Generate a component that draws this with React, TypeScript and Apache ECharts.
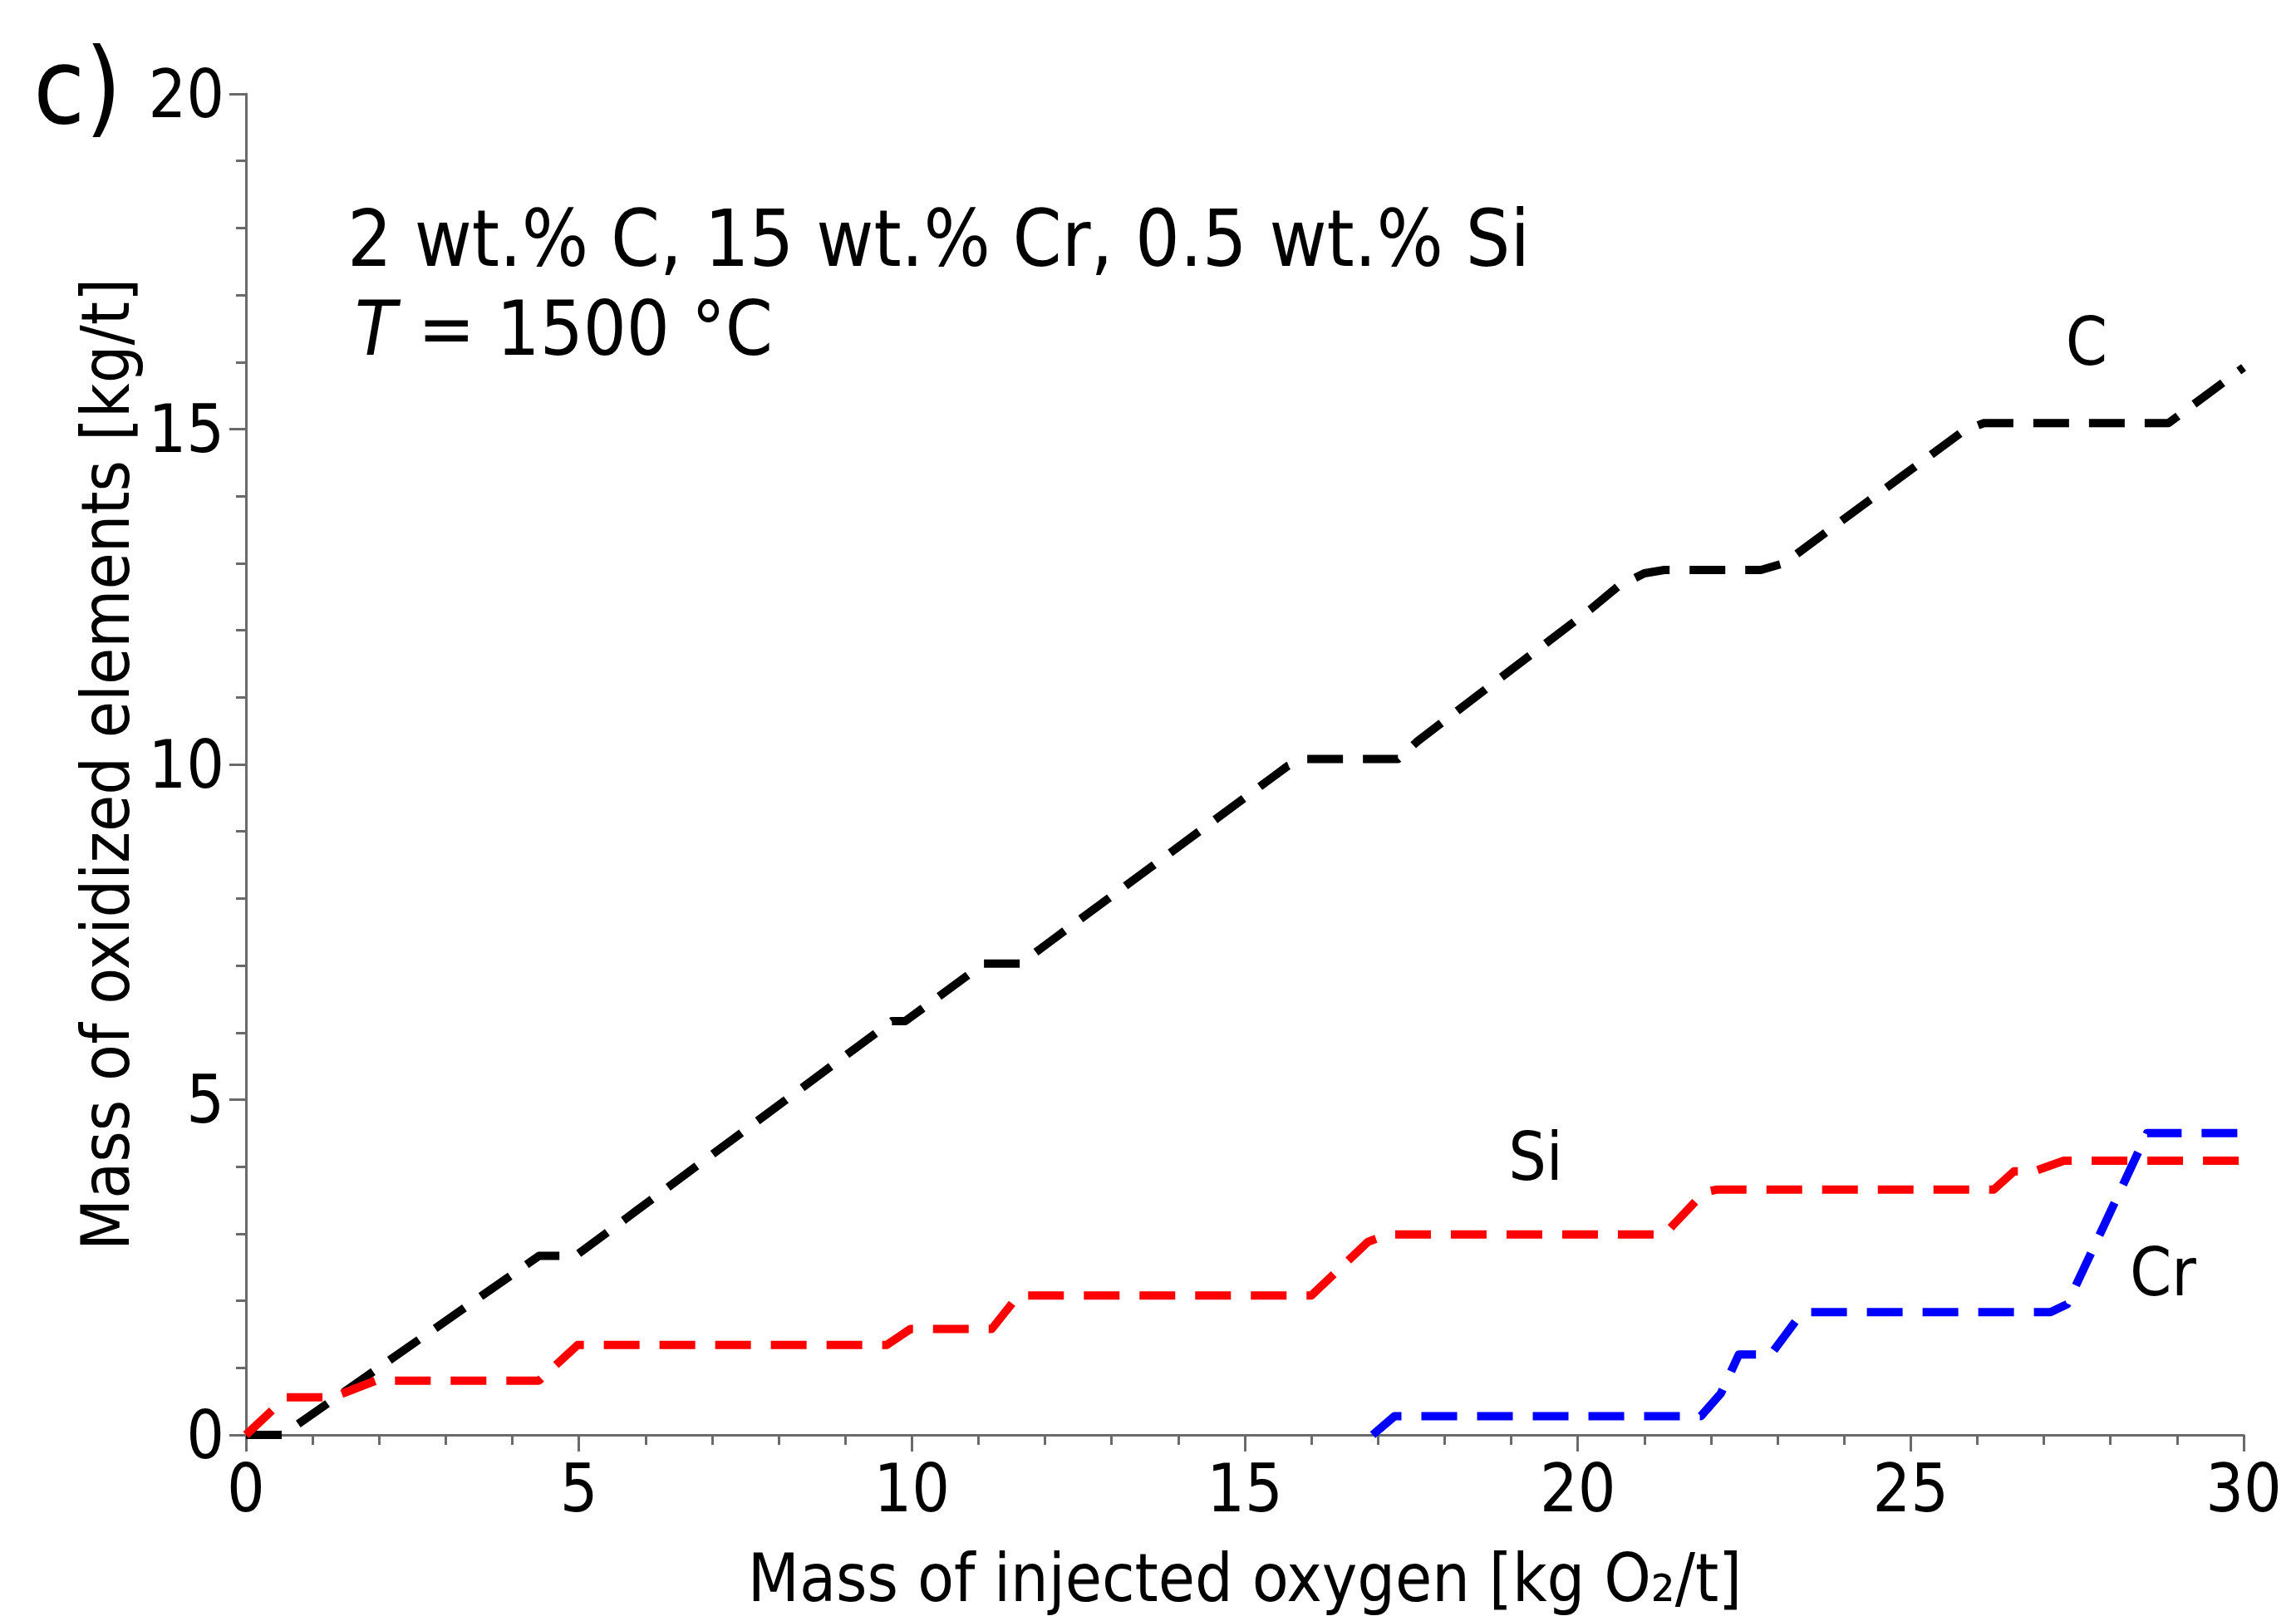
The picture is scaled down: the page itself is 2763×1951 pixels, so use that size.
import React, { useEffect, useRef } from "react";
import * as echarts from "echarts";

// Carbon (C) — black dashed
const cX = [0, 0.55, 4.4, 4.95, 9.7, 9.9, 11.08, 11.63, 15.65, 15.9, 17.3, 17.6, 20.2, 20.6, 21.0, 21.3, 22.75, 23.1, 25.8, 26.1, 28.87, 30];
const cY = [0, 0, 2.67, 2.67, 6.17, 6.17, 7.03, 7.03, 9.98, 10.08, 10.08, 10.35, 12.32, 12.65, 12.85, 12.9, 12.9, 13.0, 14.98, 15.09, 15.09, 15.92];

// Silicon (Si) — red dashed
const siX = [0, 0.6, 1.3, 1.95, 4.4, 4.98, 9.62, 9.98, 11.2, 11.6, 16.0, 16.85, 17.15, 21.3, 21.9, 22.1, 26.25, 26.55, 26.85, 27.3, 30];
const siY = [0, 0.56, 0.56, 0.81, 0.81, 1.34, 1.34, 1.58, 1.58, 2.08, 2.08, 2.88, 2.99, 2.99, 3.62, 3.66, 3.66, 3.93, 3.93, 4.09, 4.09];

// Chromium (Cr) — blue dashed
const crX = [16.92, 17.25, 21.85, 22.15, 22.42, 22.9, 23.35, 23.5, 27.1, 27.35, 28.55, 30];
const crY = [0, 0.28, 0.28, 0.62, 1.2, 1.2, 1.8, 1.83, 1.83, 1.95, 4.5, 4.5];

const xAxisTitle = "Mass of injected oxygen [kg O\u2082/t]";
const yAxisTitle = "Mass of oxidized elements [kg/t]";
const noteLine1 = "2 wt.% C, 15 wt.% Cr, 0.5 wt.% Si";
const noteLine2 = "{i|T} = 1500 °C";
const panelLabel = "c)";

const FONT = "'DejaVu Sans Condensed', 'DejaVu Sans', sans-serif";
const AXIS_COLOR = "#6a6a6a";

function pairs(xs: number[], ys: number[]) {
  return xs.map((x, i) => [x, ys[i]]);
}

export default function App() {
  const ref = useRef<HTMLDivElement>(null);

  useEffect(() => {
    const chart = echarts.init(ref.current!, null, { renderer: "svg" });
    const dash = [43, 24];
    chart.setOption({
      animation: false,
      backgroundColor: "#ffffff",
      grid: { left: 296, right: 63, top: 113, bottom: 224, containLabel: false },
      xAxis: {
        type: "value",
        min: 0,
        max: 30,
        interval: 5,
        name: xAxisTitle,
        nameLocation: "middle",
        nameGap: 172,
        nameMoveOverlap: false,
        nameTextStyle: {
          fontFamily: FONT,
          fontSize: 80,
          color: "#000",
          verticalAlign: "middle",
        },
        axisLine: { show: true, lineStyle: { color: AXIS_COLOR, width: 3 } },
        axisTick: { show: true, inside: false, length: 20, lineStyle: { color: AXIS_COLOR, width: 3 } },
        minorTick: { show: true, splitNumber: 5, length: 12, lineStyle: { color: AXIS_COLOR, width: 3 } },
        axisLabel: { fontFamily: FONT, fontSize: 80, color: "#000", margin: 24 },
        splitLine: { show: false },
      },
      yAxis: {
        type: "value",
        min: 0,
        max: 20,
        interval: 5,
        name: yAxisTitle,
        nameLocation: "middle",
        nameGap: 118,
        nameTextStyle: { fontFamily: FONT, fontSize: 80, color: "#000" },
        axisLine: { show: true, lineStyle: { color: AXIS_COLOR, width: 3 } },
        axisTick: { show: true, inside: false, length: 20, lineStyle: { color: AXIS_COLOR, width: 3 } },
        minorTick: { show: true, splitNumber: 5, length: 12, lineStyle: { color: AXIS_COLOR, width: 3 } },
        axisLabel: { fontFamily: FONT, fontSize: 80, color: "#000", margin: 26 },
        splitLine: { show: false },
      },
      series: [
        {
          name: "C",
          type: "line",
          data: pairs(cX, cY),
          showSymbol: false,
          symbol: "none",
          lineStyle: { color: "#000000", width: 10, type: dash, cap: "butt", join: "round" },
          z: 2,
        },
        {
          name: "Si",
          type: "line",
          data: pairs(siX, siY),
          showSymbol: false,
          symbol: "none",
          lineStyle: { color: "#ff0000", width: 10, type: dash, cap: "butt", join: "round" },
          z: 3,
        },
        {
          name: "Cr",
          type: "line",
          data: pairs(crX, crY),
          showSymbol: false,
          symbol: "none",
          lineStyle: { color: "#0000ff", width: 10, type: dash, cap: "butt", join: "round" },
          z: 4,
        },
      ],
      graphic: {
        elements: [
          {
            type: "text",
            x: 40,
            y: 104,
            style: { text: panelLabel, font: `126px ${FONT}`, fill: "#000", textAlign: "left", textVerticalAlign: "middle" },
          },
          {
            type: "text",
            x: 418,
            y: 287,
            style: { text: noteLine1, font: `94px ${FONT}`, fill: "#000", textAlign: "left", textVerticalAlign: "middle" },
          },
          {
            type: "text",
            x: 427,
            y: 395,
            style: {
              text: noteLine2,
              font: `91px ${FONT}`,
              fill: "#000",
              textAlign: "left",
              textVerticalAlign: "middle",
              rich: { i: { fontStyle: "italic", fontSize: 91, fontFamily: FONT, fill: "#000" } },
            },
          },
          {
            type: "text",
            x: 2511,
            y: 411,
            style: { text: "C", font: `80px ${FONT}`, fill: "#000", textAlign: "center", textVerticalAlign: "middle" },
          },
          {
            type: "text",
            x: 1848,
            y: 1392,
            style: { text: "Si", font: `80px ${FONT}`, fill: "#000", textAlign: "center", textVerticalAlign: "middle" },
          },
          {
            type: "text",
            x: 2603,
            y: 1531,
            style: { text: "Cr", font: `80px ${FONT}`, fill: "#000", textAlign: "center", textVerticalAlign: "middle" },
          },
        ],
      },
    });
    return () => chart.dispose();
  }, []);

  return (
    <div
      style={{ position: "absolute", left: 0, top: 0, width: 2763, height: 1951, overflow: "hidden", background: "#ffffff" }}
    >
      <div ref={ref} style={{ width: 2763, height: 1951, overflow: "hidden" }} />
    </div>
  );
}
